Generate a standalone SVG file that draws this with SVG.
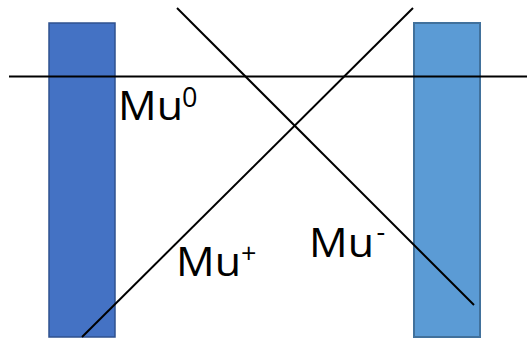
<svg xmlns="http://www.w3.org/2000/svg" width="527" height="339" viewBox="0 0 527 339">
<style>
.lbl{font-family:"Open Sans","Liberation Sans",sans-serif;font-size:41px;fill:#000}
.sup{font-family:"Open Sans","Liberation Sans",sans-serif;font-size:27px;fill:#000}
.ln{stroke:#000;stroke-width:2;fill:none}
</style>
<rect width="527" height="339" fill="#fff"/>
<g id="left-bar"><rect x="49" y="23" width="66" height="314" fill="#4472C4" stroke="#2F528F" stroke-width="1.5"/></g>
<g id="right-bar"><rect x="414" y="23" width="66" height="314" fill="#5B9BD5" stroke="#41719C" stroke-width="2"/></g>
<g id="connectors">
<line class="ln" x1="9" y1="76.5" x2="527" y2="76.5" stroke-width="2.6"/>
<line class="ln" x1="82" y1="337" x2="413" y2="8"/>
<line class="ln" x1="177" y1="8" x2="474" y2="305"/>
</g>
<g id="labels">
<text class="lbl" x="118" y="120" textLength="65" lengthAdjust="spacingAndGlyphs">Mu</text><text class="sup" x="182" y="107">0</text>
<text class="lbl" x="176" y="276" textLength="65" lengthAdjust="spacingAndGlyphs">Mu</text><text class="sup" x="241" y="263">+</text>
<text class="lbl" x="309" y="256.5" textLength="65" lengthAdjust="spacingAndGlyphs">Mu</text><text class="sup" x="376.5" y="241">-</text>
</g>
</svg>
